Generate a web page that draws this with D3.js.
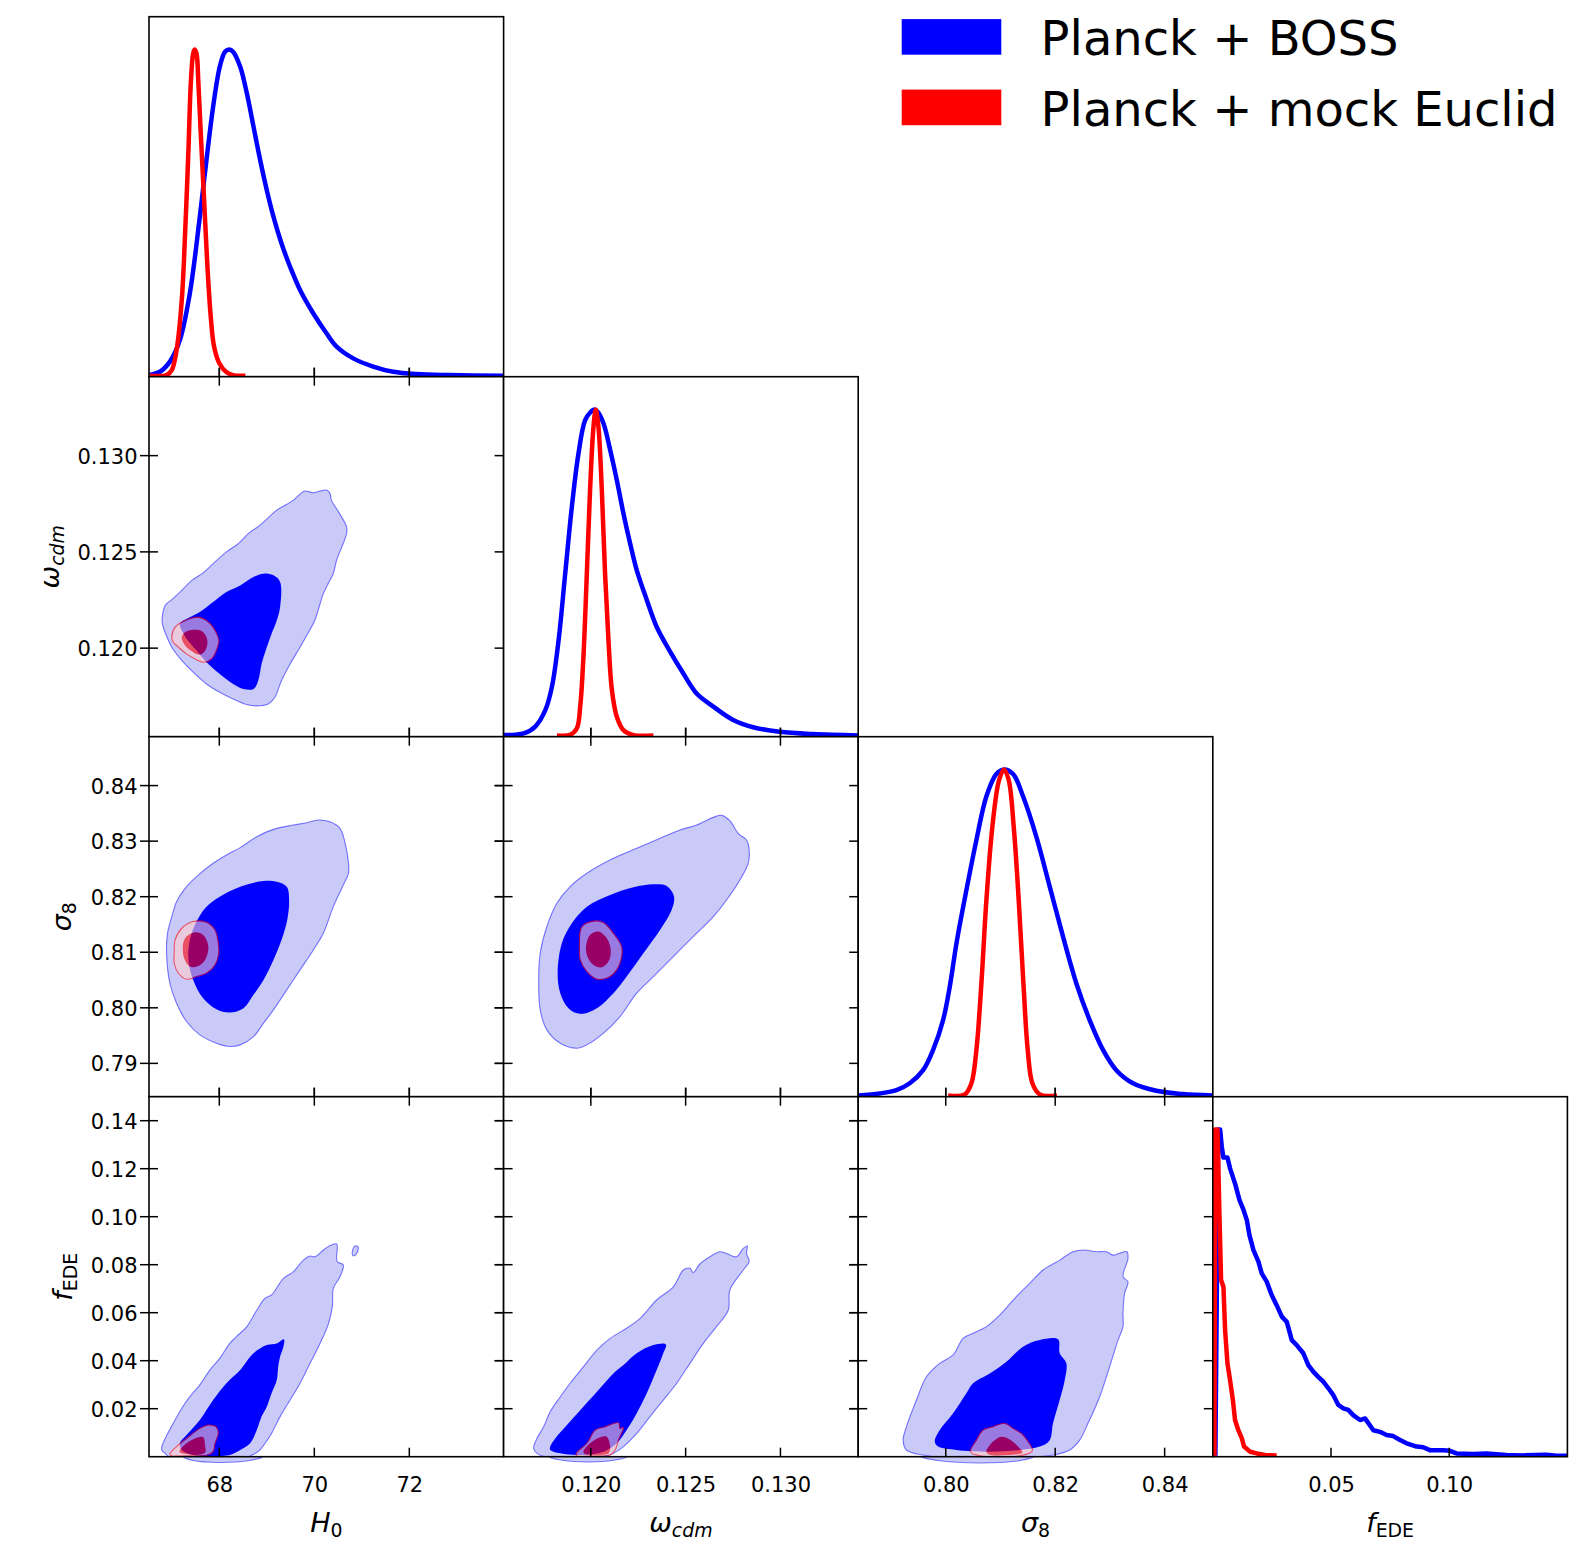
<!DOCTYPE html>
<html>
<head>
<meta charset="utf-8">
<script src="https://cdn.jsdelivr.net/npm/d3@7"></script>
<style>
  body { margin: 0; background: #fff; }
  svg { display: block; }
</style>
</head>
<body>
<svg id="fig" width="1578" height="1546"></svg>
<script>
// ---------------- series ----------------
const seriesNames = ["Planck + BOSS", "Planck + mock Euclid"];
const seriesColors = ["#0000ff", "#ff0000"];

// ---------------- ticks ----------------
const h0Ticks = [68, 70, 72];
const h0TickLabels = ["68", "70", "72"];
const wcdmTicks = [0.120, 0.125, 0.130];
const wcdmTickLabels = ["0.120", "0.125", "0.130"];
const s8TicksX = [0.80, 0.82, 0.84];
const s8TickLabelsX = ["0.80", "0.82", "0.84"];
const s8TicksY = [0.79, 0.80, 0.81, 0.82, 0.83, 0.84];
const s8TickLabelsY = ["0.79", "0.80", "0.81", "0.82", "0.83", "0.84"];
const fedeTicksX = [0.05, 0.10];
const fedeTickLabelsX = ["0.05", "0.10"];
const fedeTicksY = [0.02, 0.04, 0.06, 0.08, 0.10, 0.12, 0.14];
const fedeTickLabelsY = ["0.02", "0.04", "0.06", "0.08", "0.10", "0.12", "0.14"];

// ---------------- 1D marginals: [value, P/Pmax] ----------------
const bossH0 = [[66.53,0.005],[66.75,0.015],[66.96,0.046],[67.17,0.112],[67.38,0.255],[67.59,0.489],[67.73,0.662],[67.87,0.825],[68.01,0.947],[68.12,0.993],[68.21,1.000],[68.29,0.993],[68.44,0.947],[68.58,0.866],[68.72,0.764],[68.86,0.662],[69.00,0.570],[69.14,0.489],[69.31,0.407],[69.49,0.336],[69.70,0.265],[69.98,0.193],[70.26,0.132],[70.47,0.092],[70.82,0.056],[71.24,0.031],[71.66,0.015],[72.15,0.008],[72.86,0.005],[73.98,0.003]];
const euclidH0 = [[66.54,0.003],[66.89,0.005],[67.00,0.020],[67.10,0.081],[67.21,0.234],[67.28,0.438],[67.35,0.692],[67.40,0.896],[67.45,0.988],[67.48,1.000],[67.52,0.988],[67.56,0.896],[67.61,0.743],[67.68,0.540],[67.75,0.336],[67.82,0.183],[67.89,0.092],[68.00,0.041],[68.14,0.015],[68.29,0.005],[68.55,0.003]];
const bossWcdm = [[0.11540,0.005],[0.11646,0.010],[0.11707,0.031],[0.11760,0.081],[0.11795,0.153],[0.11830,0.295],[0.11865,0.499],[0.11900,0.703],[0.11935,0.866],[0.11970,0.967],[0.12000,0.993],[0.12018,1.000],[0.12036,0.993],[0.12067,0.957],[0.12102,0.876],[0.12137,0.784],[0.12172,0.682],[0.12207,0.591],[0.12242,0.509],[0.12295,0.418],[0.12347,0.336],[0.12418,0.260],[0.12488,0.193],[0.12558,0.132],[0.12646,0.092],[0.12751,0.051],[0.12856,0.029],[0.12996,0.015],[0.13172,0.008],[0.13409,0.004]];
const euclidWcdm = [[0.11821,0.004],[0.11891,0.006],[0.11926,0.025],[0.11944,0.092],[0.11961,0.244],[0.11979,0.499],[0.11996,0.754],[0.12014,0.947],[0.12026,1.000],[0.12040,0.947],[0.12058,0.754],[0.12075,0.499],[0.12093,0.295],[0.12111,0.143],[0.12137,0.061],[0.12172,0.020],[0.12225,0.005],[0.12330,0.004]];
const bossS8 = [[0.78399,0.004],[0.78794,0.010],[0.79099,0.020],[0.79342,0.041],[0.79586,0.081],[0.79769,0.143],[0.79951,0.234],[0.80073,0.336],[0.80195,0.468],[0.80377,0.631],[0.80560,0.784],[0.80743,0.918],[0.80925,0.986],[0.81065,1.000],[0.81230,0.986],[0.81412,0.918],[0.81656,0.794],[0.81900,0.642],[0.82143,0.489],[0.82387,0.346],[0.82630,0.234],[0.82874,0.143],[0.83117,0.081],[0.83422,0.041],[0.83848,0.018],[0.84335,0.008],[0.84871,0.004]];
const euclidS8 = [[0.80043,0.004],[0.80347,0.007],[0.80469,0.041],[0.80560,0.143],[0.80651,0.346],[0.80743,0.601],[0.80852,0.825],[0.80974,0.967],[0.81065,1.000],[0.81151,0.967],[0.81242,0.825],[0.81333,0.601],[0.81419,0.346],[0.81498,0.143],[0.81583,0.041],[0.81717,0.007],[0.82033,0.004]];
const bossFede = [[0.0011,0.003],[0.0023,1.000],[0.0031,1.000],[0.0038,0.947],[0.0045,0.914],[0.0062,0.914],[0.0073,0.881],[0.0094,0.835],[0.0113,0.784],[0.0130,0.754],[0.0144,0.723],[0.0155,0.677],[0.0172,0.631],[0.0193,0.596],[0.0207,0.560],[0.0228,0.535],[0.0249,0.494],[0.0270,0.463],[0.0292,0.428],[0.0313,0.412],[0.0334,0.356],[0.0355,0.341],[0.0383,0.316],[0.0404,0.280],[0.0425,0.260],[0.0446,0.244],[0.0468,0.229],[0.0489,0.209],[0.0510,0.188],[0.0531,0.158],[0.0552,0.148],[0.0573,0.143],[0.0594,0.127],[0.0623,0.112],[0.0644,0.117],[0.0679,0.081],[0.0707,0.076],[0.0735,0.066],[0.0763,0.063],[0.0792,0.051],[0.0820,0.041],[0.0862,0.031],[0.0890,0.029],[0.0918,0.020],[0.0975,0.020],[0.1003,0.018],[0.1031,0.010],[0.1101,0.008],[0.1158,0.010],[0.1242,0.005],[0.1313,0.004],[0.1411,0.006],[0.1454,0.003],[0.1500,0.003]];
const euclidFede = [[0.0007,0.003],[0.0010,1.000],[0.0020,1.000],[0.0028,0.743],[0.0035,0.540],[0.0045,0.519],[0.0052,0.387],[0.0062,0.285],[0.0073,0.234],[0.0085,0.173],[0.0094,0.112],[0.0108,0.081],[0.0123,0.056],[0.0132,0.031],[0.0158,0.015],[0.0186,0.010],[0.0221,0.005],[0.0270,0.004]];

// ---------------- 2D credible regions (95% and 68%) ----------------
// H0 vs omega_cdm
const bossH0Wcdm95 = [[66.80,0.12161],[66.86,0.12222],[67.00,0.12252],[67.21,0.12300],[67.42,0.12352],[67.66,0.12391],[67.87,0.12439],[68.15,0.12500],[68.40,0.12543],[68.61,0.12595],[68.86,0.12639],[69.21,0.12717],[69.42,0.12747],[69.56,0.12769],[69.80,0.12816],[69.98,0.12807],[70.12,0.12816],[70.26,0.12821],[70.33,0.12804],[70.36,0.12769],[70.51,0.12708],[70.68,0.12630],[70.68,0.12595],[70.58,0.12526],[70.47,0.12457],[70.40,0.12387],[70.29,0.12335],[70.19,0.12283],[70.08,0.12196],[70.01,0.12144],[69.84,0.12066],[69.70,0.12005],[69.49,0.11918],[69.31,0.11832],[69.17,0.11745],[69.03,0.11710],[68.79,0.11700],[68.58,0.11707],[68.29,0.11736],[68.01,0.11771],[67.73,0.11814],[67.45,0.11875],[67.21,0.11936],[67.00,0.12005],[66.87,0.12075],[66.80,0.12127]];
const bossH0Wcdm68 = [[67.17,0.12127],[67.38,0.12161],[67.59,0.12188],[67.87,0.12240],[68.15,0.12292],[68.44,0.12326],[68.72,0.12370],[68.93,0.12387],[69.14,0.12378],[69.28,0.12344],[69.28,0.12214],[69.21,0.12144],[69.10,0.12075],[69.00,0.12005],[68.89,0.11918],[68.82,0.11832],[68.72,0.11788],[68.51,0.11788],[68.29,0.11814],[68.01,0.11866],[67.73,0.11927],[67.52,0.11988],[67.31,0.12049],[67.21,0.12092]];
const euclidH0Wcdm95 = [[67.00,0.12057],[67.07,0.12109],[67.21,0.12135],[67.38,0.12153],[67.56,0.12161],[67.73,0.12144],[67.87,0.12109],[67.99,0.12040],[67.94,0.11988],[67.84,0.11944],[67.66,0.11927],[67.49,0.11944],[67.31,0.11970],[67.14,0.12005],[67.03,0.12031]];
const euclidH0Wcdm68 = [[67.21,0.12057],[67.28,0.12083],[67.45,0.12095],[67.63,0.12089],[67.73,0.12057],[67.75,0.12023],[67.68,0.11979],[67.56,0.11967],[67.42,0.11984],[67.28,0.12014]];

// H0 vs sigma8
const bossH0S8_95 = [[66.89,0.80980],[66.91,0.81342],[67.00,0.81641],[67.10,0.81911],[67.28,0.82151],[67.52,0.82361],[67.87,0.82601],[68.15,0.82751],[68.44,0.82883],[68.79,0.83080],[69.14,0.83212],[69.56,0.83290],[69.84,0.83332],[70.08,0.83380],[70.33,0.83350],[70.54,0.83230],[70.65,0.82960],[70.72,0.82601],[70.72,0.82421],[70.61,0.82211],[70.40,0.81821],[70.19,0.81342],[69.98,0.81042],[69.70,0.80682],[69.42,0.80323],[69.14,0.79963],[68.93,0.79723],[68.72,0.79483],[68.44,0.79333],[68.22,0.79303],[67.94,0.79363],[67.59,0.79513],[67.31,0.79753],[67.10,0.80083],[66.96,0.80442]];
const bossH0S8_68 = [[67.52,0.81552],[67.73,0.81821],[68.01,0.82001],[68.44,0.82181],[68.93,0.82283],[69.21,0.82271],[69.42,0.82181],[69.47,0.81941],[69.43,0.81582],[69.31,0.81222],[69.14,0.80862],[68.93,0.80502],[68.72,0.80233],[68.51,0.79993],[68.22,0.79915],[67.94,0.79975],[67.66,0.80173],[67.45,0.80502],[67.35,0.80862],[67.38,0.81222]];
const euclidH0S8_95 = [[67.05,0.80982],[67.07,0.81222],[67.21,0.81432],[67.45,0.81552],[67.73,0.81540],[67.91,0.81402],[67.98,0.81162],[67.99,0.80982],[67.91,0.80772],[67.73,0.80622],[67.52,0.80562],[67.31,0.80514],[67.14,0.80622],[67.05,0.80802]];
const euclidH0S8_68 = [[67.24,0.81162],[67.31,0.81282],[67.49,0.81360],[67.66,0.81312],[67.77,0.81102],[67.70,0.80862],[67.56,0.80754],[67.38,0.80742],[67.26,0.80892]];

// omega_cdm vs sigma8
const bossWcdmS8_95 = [[0.11725,0.80442],[0.11733,0.80982],[0.11768,0.81462],[0.11821,0.81881],[0.11891,0.82181],[0.11979,0.82421],[0.12119,0.82691],[0.12242,0.82871],[0.12365,0.83050],[0.12470,0.83200],[0.12558,0.83290],[0.12646,0.83428],[0.12689,0.83464],[0.12733,0.83368],[0.12777,0.83140],[0.12821,0.83020],[0.12835,0.82840],[0.12830,0.82601],[0.12786,0.82301],[0.12716,0.81941],[0.12646,0.81641],[0.12540,0.81282],[0.12435,0.80922],[0.12330,0.80562],[0.12242,0.80263],[0.12154,0.79843],[0.12067,0.79543],[0.11979,0.79333],[0.11926,0.79273],[0.11839,0.79363],[0.11768,0.79603],[0.11733,0.79963]];
const bossWcdmS8_68 = [[0.11825,0.80622],[0.11847,0.81162],[0.11900,0.81522],[0.11979,0.81821],[0.12102,0.82031],[0.12225,0.82169],[0.12330,0.82223],[0.12400,0.82193],[0.12439,0.82001],[0.12426,0.81761],[0.12365,0.81402],[0.12277,0.80982],[0.12189,0.80562],[0.12119,0.80263],[0.12032,0.79993],[0.11944,0.79891],[0.11882,0.79993],[0.11839,0.80263]];
const euclidWcdmS8_95 = [[0.11940,0.81102],[0.11953,0.81462],[0.12023,0.81564],[0.12067,0.81534],[0.12119,0.81342],[0.12163,0.81102],[0.12163,0.80922],[0.12137,0.80682],[0.12093,0.80544],[0.12032,0.80514],[0.11979,0.80652],[0.11944,0.80862]];
const euclidWcdmS8_68 = [[0.11975,0.81102],[0.11996,0.81312],[0.12040,0.81372],[0.12084,0.81252],[0.12105,0.81042],[0.12093,0.80832],[0.12058,0.80730],[0.12014,0.80772],[0.11982,0.80922]];

// H0 vs f_EDE
const bossH0Fede95 = [[66.79,0.0042],[66.86,0.0076],[67.03,0.0139],[67.21,0.0202],[67.38,0.0250],[67.59,0.0299],[67.80,0.0361],[68.01,0.0410],[68.22,0.0472],[68.36,0.0500],[68.58,0.0542],[68.79,0.0611],[68.96,0.0660],[69.10,0.0674],[69.35,0.0743],[69.56,0.0771],[69.77,0.0819],[69.91,0.0836],[70.01,0.0833],[70.19,0.0861],[70.29,0.0875],[70.47,0.0886],[70.48,0.0813],[70.61,0.0799],[70.54,0.0750],[70.40,0.0701],[70.38,0.0625],[70.29,0.0549],[70.12,0.0472],[69.91,0.0389],[69.70,0.0306],[69.49,0.0236],[69.28,0.0167],[69.10,0.0097],[68.96,0.0055],[68.84,0.0025],[68.70,0.0008],[68.50,-0.0010],[67.00,-0.0010],[66.86,0.0014],[66.79,0.0028]];
const bossH0Fede68 = [[67.17,0.0056],[67.31,0.0090],[67.59,0.0153],[67.87,0.0236],[68.15,0.0306],[68.44,0.0361],[68.72,0.0431],[69.00,0.0465],[69.21,0.0472],[69.36,0.0489],[69.35,0.0458],[69.28,0.0417],[69.24,0.0375],[69.21,0.0320],[69.10,0.0264],[69.00,0.0208],[68.89,0.0167],[68.79,0.0111],[68.65,0.0056],[68.44,0.0028],[68.22,0.0007],[67.87,0.0003],[67.45,0.0007],[67.21,0.0028]];
const bossH0FedeIsland = [[70.81,0.0838],[70.80,0.0854],[70.86,0.0878],[70.92,0.0875],[70.91,0.0854],[70.85,0.0838]];
const bossH0FedeBelow = [[67.24,0.0000],[67.45,-0.0016],[68.00,-0.0024],[68.60,-0.0017],[68.92,0.0000]];
const euclidH0Fede95 = [[66.96,0.0011],[67.10,0.0042],[67.31,0.0076],[67.59,0.0118],[67.77,0.0132],[67.93,0.0125],[67.98,0.0097],[67.91,0.0056],[67.87,0.0021],[67.73,0.0006],[67.45,0.0004],[67.17,0.0003],[67.00,0.0003]];
const euclidH0Fede68 = [[67.17,0.0028],[67.31,0.0056],[67.49,0.0076],[67.66,0.0081],[67.70,0.0049],[67.70,0.0017],[67.52,0.0007],[67.31,0.0011],[67.17,0.0017]];

// omega_cdm vs f_EDE
const bossWcdmFede95 = [[0.11698,0.0035],[0.11716,0.0076],[0.11751,0.0125],[0.11786,0.0188],[0.11839,0.0250],[0.11891,0.0306],[0.11961,0.0375],[0.12032,0.0444],[0.12102,0.0493],[0.12189,0.0535],[0.12260,0.0576],[0.12347,0.0653],[0.12435,0.0708],[0.12488,0.0778],[0.12523,0.0785],[0.12540,0.0767],[0.12575,0.0803],[0.12628,0.0833],[0.12681,0.0854],[0.12716,0.0847],[0.12768,0.0833],[0.12804,0.0868],[0.12825,0.0878],[0.12821,0.0847],[0.12835,0.0813],[0.12804,0.0778],[0.12733,0.0694],[0.12725,0.0611],[0.12663,0.0542],[0.12593,0.0472],[0.12523,0.0389],[0.12453,0.0306],[0.12382,0.0236],[0.12312,0.0167],[0.12242,0.0097],[0.12172,0.0042],[0.12119,0.0014],[0.11996,-0.0010],[0.11821,-0.0010],[0.11716,0.0014]];
const bossWcdmFede68 = [[0.11786,0.0042],[0.11812,0.0076],[0.11874,0.0132],[0.11944,0.0194],[0.12032,0.0271],[0.12119,0.0347],[0.12172,0.0382],[0.12242,0.0431],[0.12330,0.0465],[0.12396,0.0468],[0.12382,0.0431],[0.12347,0.0361],[0.12295,0.0264],[0.12242,0.0181],[0.12189,0.0111],[0.12137,0.0056],[0.12067,0.0021],[0.11944,0.0007],[0.11839,0.0014],[0.11786,0.0028]];
const bossWcdmFedeBelow = [[0.1178,0.0000],[0.1185,-0.0015],[0.1199,-0.0022],[0.1212,-0.0015],[0.1219,0.0000]];
const euclidWcdmFede95 = [[0.11923,0.0014],[0.11979,0.0056],[0.12023,0.0111],[0.12075,0.0125],[0.12146,0.0142],[0.12154,0.0118],[0.12172,0.0122],[0.12146,0.0069],[0.12128,0.0028],[0.12102,0.0007],[0.11996,0.0003],[0.11926,0.0003]];
const euclidWcdmFede68 = [[0.11961,0.0021],[0.11996,0.0056],[0.12049,0.0081],[0.12084,0.0083],[0.12102,0.0042],[0.12093,0.0014],[0.12032,0.0007],[0.11970,0.0011]];

// sigma8 vs f_EDE
const bossS8Fede95 = [[0.79221,0.0069],[0.79282,0.0125],[0.79464,0.0236],[0.79647,0.0333],[0.79890,0.0389],[0.80134,0.0424],[0.80317,0.0493],[0.80499,0.0514],[0.80743,0.0542],[0.80986,0.0590],[0.81291,0.0667],[0.81534,0.0722],[0.81778,0.0778],[0.82082,0.0819],[0.82326,0.0854],[0.82539,0.0861],[0.82752,0.0854],[0.82935,0.0854],[0.83056,0.0840],[0.83166,0.0847],[0.83312,0.0854],[0.83330,0.0826],[0.83239,0.0750],[0.83330,0.0729],[0.83269,0.0681],[0.83239,0.0597],[0.83239,0.0542],[0.83148,0.0486],[0.82995,0.0375],[0.82813,0.0250],[0.82600,0.0139],[0.82447,0.0069],[0.82265,0.0028],[0.81960,0.0007],[0.81108,-0.0010],[0.80195,-0.0010],[0.79586,0.0007],[0.79282,0.0028]];
const bossS8Fede68 = [[0.79799,0.0063],[0.79890,0.0111],[0.80134,0.0181],[0.80377,0.0264],[0.80499,0.0306],[0.80804,0.0347],[0.81108,0.0396],[0.81412,0.0458],[0.81717,0.0486],[0.82052,0.0489],[0.82082,0.0431],[0.82204,0.0389],[0.82174,0.0319],[0.82082,0.0236],[0.81960,0.0139],[0.81900,0.0069],[0.81717,0.0042],[0.81352,0.0028],[0.80804,0.0021],[0.80195,0.0028],[0.79860,0.0042]];
const bossS8FedeBelow = [[0.7955,0.0000],[0.7990,-0.0017],[0.8060,-0.0026],[0.8130,-0.0018],[0.8160,0.0000]];
const euclidS8Fede95 = [[0.80451,0.0021],[0.80560,0.0069],[0.80682,0.0111],[0.80865,0.0125],[0.81078,0.0139],[0.81230,0.0118],[0.81382,0.0097],[0.81504,0.0063],[0.81583,0.0025],[0.81352,0.0004],[0.80621,0.0004]];
const euclidS8Fede68 = [[0.80743,0.0021],[0.80865,0.0063],[0.81017,0.0083],[0.81169,0.0072],[0.81321,0.0042],[0.81400,0.0017],[0.81108,0.0007],[0.80804,0.0008]];

// ---------------- layout / style ----------------
const FONT = "'DejaVu Sans', sans-serif";
const X0 = 149, Y0 = 16.7, PW = 354.6, PH = 360, TICK = 9;
const BLUE_LIGHT = "#cacaf9", BLUE_EDGE = "rgba(0,0,255,0.5)";
const RED_LIGHT = "#ffcccc";

const params = [
  { domain: [66.52, 73.985], xt: h0Ticks, xl: h0TickLabels, yt: null, yl: null,
    title: [["H", "italic", false], ["0", "normal", true]], ylabX: null },
  { domain: [0.1154, 0.1341], xt: wcdmTicks, xl: wcdmTickLabels, yt: wcdmTicks, yl: wcdmTickLabels,
    title: [["ω", "italic", false], ["cdm", "italic", true]], ylabX: 59 },
  { domain: [0.7840, 0.8488], xt: s8TicksX, xl: s8TickLabelsX, yt: s8TicksY, yl: s8TickLabelsY,
    title: [["σ", "italic", false], ["8", "normal", true]], ylabX: 71 },
  { domain: [0, 0.15], xt: fedeTicksX, xl: fedeTickLabelsX, yt: fedeTicksY, yl: fedeTickLabelsY,
    title: [["f", "italic", false], ["EDE", "normal", true]], ylabX: 72 }
];

const marginals = [[bossH0, euclidH0], [bossWcdm, euclidWcdm], [bossS8, euclidS8], [bossFede, euclidFede]];
const joint = {
  "1,0": { boss: [bossH0Wcdm95, bossH0Wcdm68], euclid: [euclidH0Wcdm95, euclidH0Wcdm68] },
  "2,0": { boss: [bossH0S8_95, bossH0S8_68], euclid: [euclidH0S8_95, euclidH0S8_68] },
  "2,1": { boss: [bossWcdmS8_95, bossWcdmS8_68], euclid: [euclidWcdmS8_95, euclidWcdmS8_68] },
  "3,0": { boss: [bossH0Fede95, bossH0Fede68], euclid: [euclidH0Fede95, euclidH0Fede68],
           islands: [bossH0FedeIsland], below: bossH0FedeBelow },
  "3,1": { boss: [bossWcdmFede95, bossWcdmFede68], euclid: [euclidWcdmFede95, euclidWcdmFede68],
           below: bossWcdmFedeBelow },
  "3,2": { boss: [bossS8Fede95, bossS8Fede68], euclid: [euclidS8Fede95, euclidS8Fede68],
           below: bossS8FedeBelow }
};

const svg = d3.select("#fig");
const defs = svg.append("defs");

function addTitle(textSel, parts, size) {
  parts.forEach(([t, style, sub]) => {
    textSel.append("tspan")
      .text(t)
      .attr("font-style", style)
      .attr("font-size", sub ? size * 0.7 : size)
      .attr("dy", sub ? 5 : 0);
  });
}

function tick(g, x1, y1, x2, y2) {
  g.append("line").attr("x1", x1).attr("y1", y1).attr("x2", x2).attr("y2", y2)
    .attr("stroke", "#000").attr("stroke-width", 1.5);
}

for (let i = 0; i < 4; i++) {
  for (let j = 0; j <= i; j++) {
    const left = X0 + j * PW, top = Y0 + i * PH, bottom = top + PH, right = left + PW;
    const xs = d3.scaleLinear().domain(params[j].domain).range([left, right]);
    const ys = (i === j)
      ? d3.scaleLinear().domain([0, 1.1]).range([bottom, top])
      : d3.scaleLinear().domain(params[i].domain).range([bottom, top]);

    const g = svg.append("g").attr("class", `panel-${i}-${j}`);
    g.append("rect").attr("x", left).attr("y", top).attr("width", PW).attr("height", PH).attr("fill", "#fff");

    const clipId = `clip-${i}-${j}`;
    defs.append("clipPath").attr("id", clipId)
      .append("rect").attr("x", left).attr("y", top).attr("width", PW).attr("height", PH);
    const body = g.append("g").attr("clip-path", `url(#${clipId})`);

    if (i === j) {
      // 1D marginal posteriors
      const ln = d3.line().x(d => xs(d[0])).y(d => ys(d[1]))
        .curve(i === 3 ? d3.curveLinear : d3.curveCatmullRom.alpha(0.5));
      marginals[i].forEach((series, k) => {
        body.append("path").attr("d", ln(series))
          .attr("fill", "none").attr("stroke", seriesColors[k])
          .attr("stroke-width", 4.5).attr("stroke-linejoin", "round").attr("stroke-linecap", "butt");
      });
    } else {
      const shape = d3.line().x(d => xs(d[0])).y(d => ys(d[1]))
        .curve(d3.curveCatmullRomClosed.alpha(0.5));
      const c = joint[`${i},${j}`];

      // lobe of the outer region just under the f_EDE = 0 axis
      if (c.below) {
        const bid = `below-${i}-${j}`;
        defs.append("clipPath").attr("id", bid)
          .append("rect").attr("x", left).attr("y", bottom).attr("width", PW).attr("height", 20);
        g.append("path").attr("d", shape(c.below)).attr("clip-path", `url(#${bid})`)
          .attr("fill", BLUE_LIGHT).attr("stroke", BLUE_EDGE).attr("stroke-width", 1.1);
      }

      // Planck + BOSS
      body.append("path").attr("d", shape(c.boss[0]))
        .attr("fill", BLUE_LIGHT).attr("stroke", BLUE_EDGE).attr("stroke-width", 1.1);
      (c.islands || []).forEach(isl => {
        body.append("path").attr("d", shape(isl))
          .attr("fill", BLUE_LIGHT).attr("stroke", BLUE_EDGE).attr("stroke-width", 1.1);
      });
      body.append("path").attr("d", shape(c.boss[1])).attr("fill", seriesColors[0]);

      // Planck + mock Euclid (translucent layer)
      const rg = body.append("g").attr("opacity", 0.6);
      rg.append("path").attr("d", shape(c.euclid[0]))
        .attr("fill", RED_LIGHT).attr("stroke", seriesColors[1]).attr("stroke-width", 1.1);
      rg.append("path").attr("d", shape(c.euclid[1])).attr("fill", seriesColors[1]);
    }

    // tick marks
    const tg = g.append("g");
    params[j].xt.forEach(v => {
      const x = xs(v);
      tick(tg, x, bottom - TICK, x, bottom);
      if (i !== j) tick(tg, x, top - TICK, x, top + TICK);
    });
    if (i !== j) {
      params[i].yt.forEach(v => {
        const y = ys(v);
        tick(tg, left - TICK, y, left + TICK, y);
        tick(tg, right - TICK, y, right, y);
      });
    }

    // frame
    g.append("rect").attr("x", left).attr("y", top).attr("width", PW).attr("height", PH)
      .attr("fill", "none").attr("stroke", "#000").attr("stroke-width", 1.6);

    // tick labels
    if (i === 3) {
      const ax = g.append("g").attr("transform", `translate(0,${bottom})`)
        .call(d3.axisBottom(xs).tickValues(params[j].xt)
          .tickFormat((d, k) => params[j].xl[k]).tickSize(0).tickPadding(20));
      ax.select(".domain").remove();
      ax.attr("font-size", null).attr("font-family", null);
      ax.selectAll("text").attr("font-family", FONT).attr("font-size", 21).attr("fill", "#000");
    }
    if (j === 0 && i > 0) {
      const ay = g.append("g").attr("transform", `translate(${left},0)`)
        .call(d3.axisLeft(ys).tickValues(params[i].yt)
          .tickFormat((d, k) => params[i].yl[k]).tickSize(0).tickPadding(11.5));
      ay.select(".domain").remove();
      ay.attr("font-size", null).attr("font-family", null);
      ay.selectAll("text").attr("font-family", FONT).attr("font-size", 21).attr("fill", "#000")
        .attr("dy", "0.36em");
    }
  }
}

// axis titles
params.forEach((p, j) => {
  const t = svg.append("text")
    .attr("x", X0 + j * PW + PW / 2).attr("y", 1531.7)
    .attr("text-anchor", "middle").attr("font-family", FONT).attr("fill", "#000");
  addTitle(t, p.title, 27);
});
params.forEach((p, i) => {
  if (i === 0) return;
  const cy = Y0 + i * PH + PH / 2;
  const t = svg.append("text")
    .attr("transform", `translate(${p.ylabX},${cy}) rotate(-90)`)
    .attr("text-anchor", "middle").attr("font-family", FONT).attr("fill", "#000");
  addTitle(t, p.title, 27);
});

// legend
const leg = svg.append("g").attr("class", "legend");
seriesNames.forEach((name, k) => {
  leg.append("rect").attr("x", 901.7).attr("y", 19.1 + k * 70.5)
    .attr("width", 99.6).attr("height", 35.6).attr("fill", seriesColors[k]);
  leg.append("text").attr("x", 1040.6).attr("y", 55.4 + k * 70.5)
    .attr("font-family", FONT).attr("font-size", 48).attr("fill", "#000").text(name);
});
</script>
</body>
</html>
